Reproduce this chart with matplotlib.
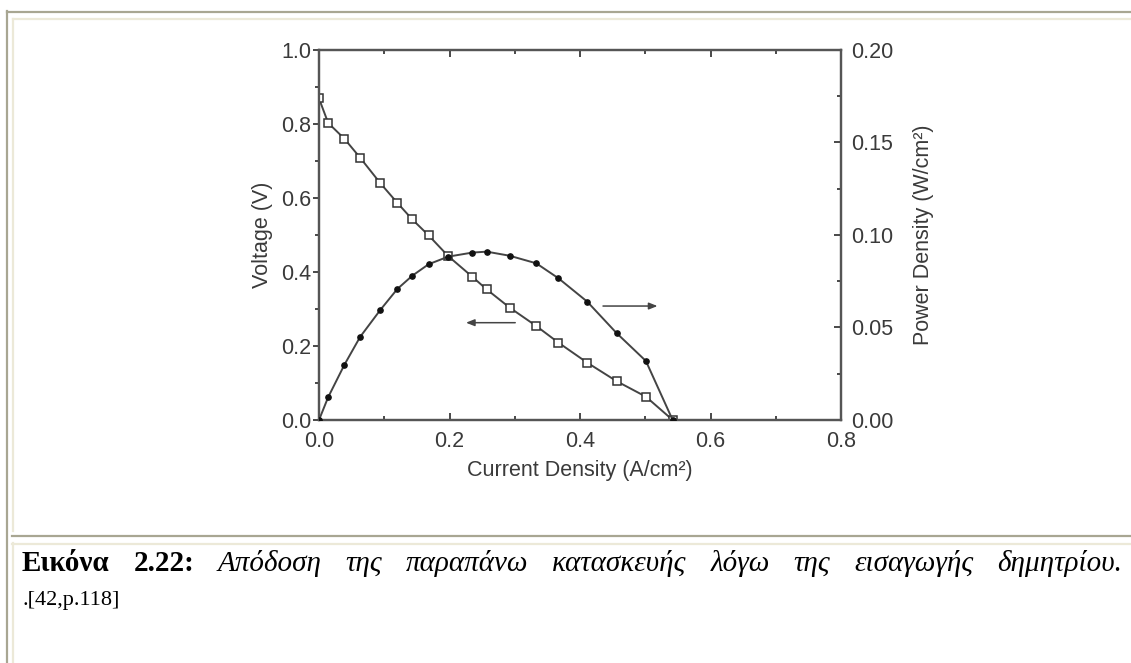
import matplotlib
matplotlib.use("Agg")
import matplotlib.pyplot as plt
from matplotlib.lines import Line2D
from matplotlib.ticker import MultipleLocator, FormatStrFormatter

# data
current = [0.0, 0.014, 0.039, 0.063, 0.094, 0.120, 0.143, 0.168, 0.198,
           0.235, 0.257, 0.292, 0.333, 0.367, 0.411, 0.456, 0.501, 0.542]
voltage = [0.869, 0.803, 0.760, 0.709, 0.640, 0.587, 0.542, 0.499, 0.443,
           0.387, 0.353, 0.304, 0.254, 0.209, 0.155, 0.105, 0.063, 0.0]
power = [0.0, 0.0123, 0.0299, 0.0449, 0.0595, 0.0708, 0.0780, 0.0842, 0.0883,
         0.0905, 0.0910, 0.0888, 0.0847, 0.0766, 0.0640, 0.0470, 0.0319, 0.0]

caption_bold = ["Εικόνα", "2.22:"]
caption_italic = ["Απόδοση", "της", "παραπάνω", "κατασκευής", "λόγω", "της",
                  "εισαγωγής", "δημητρίου."]
caption_ref = ".[42,p.118]"

W, H = 1131, 663
plt.rcParams['font.family'] = ['Liberation Sans', 'DejaVu Sans']

fig = plt.figure(figsize=(W / 100, H / 100), dpi=100)
fig.patch.set_facecolor('white')

# plot area in pixels
left, top, right, bottom = 319, 50, 841, 420
ax = fig.add_axes([left / W, 1 - bottom / H, (right - left) / W, (bottom - top) / H])
ax2 = ax.twinx()

ink = '#3a3a3a'
ax.plot(current, voltage, color='#444444', lw=1.4, marker='s', ms=5.5,
        mfc='white', mec='#333333', mew=1.1, zorder=3)
ax2.plot(current, power, color='#444444', lw=1.4, marker='o', ms=3.8,
         mfc='#111111', mec='#111111', zorder=3)

ax.set_xlim(0, 0.8)
ax.set_ylim(0, 1.0)
ax2.set_ylim(0, 0.2)

ax.xaxis.set_major_locator(MultipleLocator(0.2))
ax.xaxis.set_minor_locator(MultipleLocator(0.1))
ax.yaxis.set_major_locator(MultipleLocator(0.2))
ax.yaxis.set_minor_locator(MultipleLocator(0.1))
ax2.yaxis.set_major_locator(MultipleLocator(0.05))
ax2.yaxis.set_minor_locator(MultipleLocator(0.025))
ax.xaxis.set_major_formatter(FormatStrFormatter('%.1f'))
ax.yaxis.set_major_formatter(FormatStrFormatter('%.1f'))
ax2.yaxis.set_major_formatter(FormatStrFormatter('%.2f'))

fs = 15.5
ax.tick_params(axis='x', which='both', direction='in', top=True, colors=ink,
               labelsize=fs, pad=8)
ax.tick_params(axis='x', which='major', length=5, width=1.3)
ax.tick_params(axis='x', which='minor', length=3, width=1.3)
ax.tick_params(axis='y', which='both', direction='out', colors=ink,
               labelsize=fs, pad=1.5)
ax.tick_params(axis='y', which='major', length=4, width=1.3)
ax.tick_params(axis='y', which='minor', length=3, width=1.3)
ax2.tick_params(axis='y', which='both', direction='in', colors=ink,
                labelsize=fs, pad=7)
ax2.tick_params(axis='y', which='major', length=5, width=1.3)
ax2.tick_params(axis='y', which='minor', length=3, width=1.3)

for a in (ax, ax2):
    for sp in a.spines.values():
        sp.set_color('#555555')
        sp.set_linewidth(1.6)

ax.set_xlabel("Current Density (A/cm²)", fontsize=fs, color=ink, labelpad=6)
ax.set_ylabel("Voltage (V)", fontsize=fs, color=ink, labelpad=6)
ax2.set_ylabel("Power Density (W/cm²)", fontsize=fs, color=ink, labelpad=14)

# direction arrows
arrow = dict(arrowstyle='-|>,head_length=0.5,head_width=0.2', color='#444444', lw=1.1)
ax.annotate('', xy=(0.221, 0.263), xytext=(0.305, 0.263), arrowprops=arrow)
ax.annotate('', xy=(0.523, 0.308), xytext=(0.431, 0.308), arrowprops=arrow)

# table frame around the figure
def hline(y, x0, x1, color, lw):
    fig.add_artist(Line2D([x0 / W, x1 / W], [1 - y / H, 1 - y / H],
                          transform=fig.transFigure, color=color, lw=lw))

def vline(x, y0, y1, color, lw):
    fig.add_artist(Line2D([x / W, x / W], [1 - y0 / H, 1 - y1 / H],
                          transform=fig.transFigure, color=color, lw=lw))

gray, beige = '#a8a692', '#ece9d8'
hline(12, 7, W, gray, 1.6)
vline(7, 11, H, gray, 1.6)
hline(19, 13, W, beige, 1.6)
vline(13, 19, 531, beige, 1.6)
hline(536, 12, W, gray, 1.6)
hline(543.5, 12, W, beige, 1.6)
vline(13, 543, H, beige, 1.6)

# justified caption (first line is set larger than the reference line)
serif = ['Liberation Serif', 'DejaVu Serif']
x_start, x_end, y_base = 22, 1122, 571
words = []
for w in caption_bold:
    words.append(fig.text(0, 1 - y_base / H, w, fontsize=21, family=serif,
                          weight='bold', va='baseline', color='black'))
for w in caption_italic:
    words.append(fig.text(0, 1 - y_base / H, w, fontsize=21, family=serif,
                          style='italic', va='baseline', color='black'))
renderer = fig.canvas.get_renderer()
widths = [t.get_window_extent(renderer).width for t in words]
gap = (x_end - x_start - sum(widths)) / (len(words) - 1)
x = x_start
for t, wd in zip(words, widths):
    t.set_x(x / W)
    x += wd + gap

fig.text(x_start / W, 1 - 605 / H, caption_ref, fontsize=16, family=serif,
         va='baseline', color='black')

fig.savefig("out.png", dpi=100)
